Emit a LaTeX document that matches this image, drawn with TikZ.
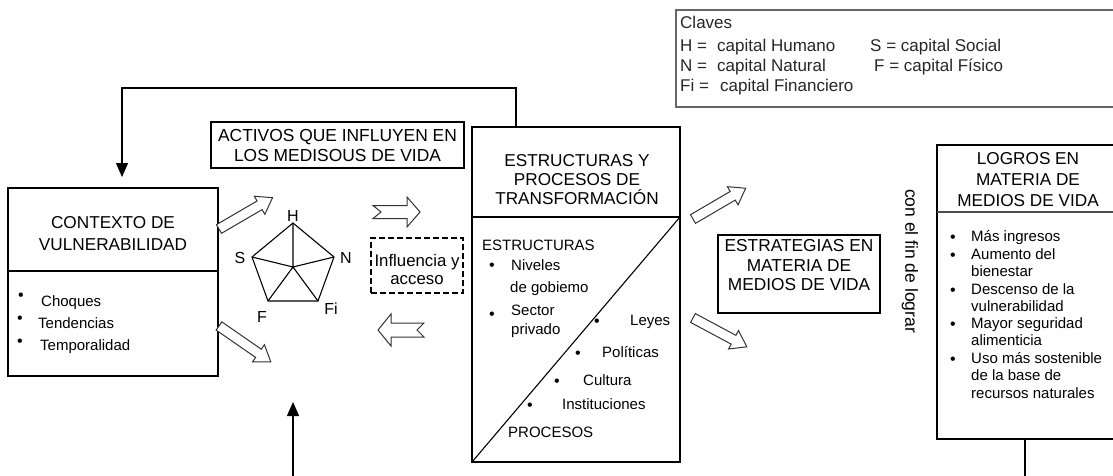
\documentclass[tikz,border=0pt]{standalone}
\usepackage{fontspec}
\setmainfont{Liberation Sans}
\usetikzlibrary{arrows.meta}
\newcommand\blockarr[7]{%
  \draw[barrow, shift={(#1)}, rotate=#2]
    (0,-#4) -- (#3-#6,-#4) -- (#3-#6,-#5) -- (#3,0) -- (#3-#6,#5) -- (#3-#6,#4) -- (0,#4) -- (#7,0) -- cycle;}
\begin{document}
\begin{tikzpicture}[x=1pt,y=-1pt,
  boxframe/.style={draw, line width=1.2pt, inner sep=0pt, outer sep=0pt, anchor=north west},
  divline/.style={line width=1.2pt},
  ttl/.style={font=\fontsize{17.2}{20.5}\selectfont, align=center, inner sep=0pt},
  itm/.style={font=\fontsize{15}{17.4}\selectfont, inner sep=0pt, anchor=mid west},
  bul/.style={font=\fontsize{16}{16}\selectfont, inner sep=0pt},
  keytxt/.style={font=\fontsize{17}{20}\selectfont, inner sep=0pt, anchor=mid west, text=black!85},
  lbl/.style={font=\fontsize{16}{18}\selectfont, inner sep=0pt},
  barrow/.style={draw=black!80, fill=white, line width=1pt, line join=miter},
  link/.style={line width=1.2pt},
  arrowed/.style={-{Triangle[length=14pt,width=12pt]}}
]
\useasboundingbox (0,0) rectangle (1113,476);

% ---------- key ----------
\draw[black!60, line width=1.2pt] (1120,10) -- (676,10) -- (676,107) -- (1120,107);
\node[keytxt] (kcl) at (680,26) {Claves};
\node[keytxt] (kh) at (680,49) {H =};
\node[keytxt] (khv) at (717,49) {capital Humano};
\node[keytxt] (ks) at (870,49) {S = capital Social};
\node[keytxt] (kn) at (680,69) {N =};
\node[keytxt] (knv) at (717,69) {capital Natural};
\node[keytxt] (kf) at (874,69) {F = capital Físico};
\node[keytxt] (kfi) at (680,89) {Fi =};
\node[keytxt] (kfiv) at (720,89) {capital Financiero};

% ---------- contexto ----------
\node[boxframe, minimum width=210, minimum height=188] (ctx) at (8,188) {};
\draw[divline] (ctx.west |- 0,271) -- (ctx.east |- 0,271);
\node[ttl, font=\fontsize{17.2}{22}\selectfont] (ctxt) at (113,234) {CONTEXTO DE\\VULNERABILIDAD};
\node[bul] (cb1) at (21,297) {•};
\node[bul] (cb2) at (20,320) {•};
\node[bul] (cb3) at (20,343) {•};
\node[itm] (c1) at (41,304) {Choques};
\node[itm] (c2) at (38,326) {Tendencias};
\node[itm] (c3) at (40,348) {Temporalidad};

% ---------- activos ----------
\node[boxframe, minimum width=253, minimum height=46] (act) at (211,122) {};
\node[ttl, font=\fontsize{17.4}{20}\selectfont] (actt) at (337.5,146) {ACTIVOS QUE INFLUYEN EN\\LOS MEDISOUS DE VIDA};

% ---------- pentagon ----------
\coordinate (pH) at (293,223);
\coordinate (pN) at (334,257);
\coordinate (pFi) at (318,301);
\coordinate (pF) at (268,301);
\coordinate (pS) at (252,257);
\coordinate (pC) at (293,267);
\draw[line width=1.1pt, line join=miter] (pH) -- (pN) -- (pFi) -- (pF) -- (pS) -- cycle;
\draw[line width=1.1pt] (pC) -- (pH) (pC) -- (pN) (pC) -- (pFi) (pC) -- (pF) (pC) -- (pS);
\node[lbl] (lH) at (293,216) {H};
\node[lbl] (lS) at (240,258) {S};
\node[lbl] (lN) at (346,258) {N};
\node[lbl] (lF) at (262,317) {F};
\node[lbl] (lFi) at (331,309) {Fi};

% ---------- block arrows (left part) ----------
\blockarr{219,229}{30.3}{62}{5}{10.5}{15}{0}
\blockarr{219,326}{-34.7}{63}{5}{10.5}{15}{0}
\blockarr{373,212}{0}{47}{6.5}{15}{13}{8}
\blockarr{424,330}{180}{46}{7}{16}{13}{7}

% ---------- influencia ----------
\node[boxframe, dash pattern=on 6pt off 3pt, line width=1.6pt, minimum width=92, minimum height=55] (inf) at (371,238) {};
\node[ttl, font=\fontsize{16.8}{18}\selectfont] (inft) at (417,269) {Influencia y\\acceso};

% ---------- estructuras ----------
\node[boxframe, minimum width=208, minimum height=335] (str) at (472,127) {};
\draw[divline] (str.west |- 0,217) -- (str.east |- 0,217);
\draw[line width=1.1pt] (str.south west) -- (str.east |- 0,217);
\node[ttl, font=\fontsize{17.2}{18.6}\selectfont] (strt) at (577,179.5) {ESTRUCTURAS Y\\PROCESOS DE\\TRANSFORMACIÓN};
\node[itm] (se) at (482,248) {ESTRUCTURAS};
\node[bul] (sb1) at (492,267) {•};
\node[bul] (sb2) at (492,316) {•};
\node[itm] (s1) at (511,268) {Niveles};
\node[itm] (s2) at (510,290) {de gobiemo};
\node[itm] (s3) at (511,313) {Sector};
\node[itm] (s4) at (511,332) {privado};
\node[bul] (pb1) at (597,323) {•};
\node[bul] (pb2) at (578,355) {•};
\node[bul] (pb3) at (557,383) {•};
\node[bul] (pb4) at (530,407) {•};
\node[itm] (p1) at (630,323) {Leyes};
\node[itm] (p2) at (602,355) {Políticas};
\node[itm] (p3) at (583,383) {Cultura};
\node[itm] (p4) at (562,407) {Instituciones};
\node[itm] (pp) at (508,435) {PROCESOS};

% ---------- feedback loop ----------
\coordinate (fbtop) at (516,88);
\coordinate (fbleft) at (122,88);
\coordinate (fbend) at (122,177);
\draw[link, arrowed] (str.north -| fbtop) |- (fbleft) -- (fbend);

% ---------- block arrows (right part) ----------
\blockarr{693,219}{30.3}{61}{5}{10.5}{15}{0}
\blockarr{693,318}{-28.2}{61}{5}{10.5}{15}{0}

% ---------- estrategias ----------
\node[boxframe, minimum width=162, minimum height=78] (est) at (718,235) {};
\node[ttl, font=\fontsize{17.3}{19.5}\selectfont] (estt) at (799,265.5) {ESTRATEGIAS EN\\MATERIA DE\\MEDIOS DE VIDA};

\node[font=\fontsize{17.5}{20}\selectfont, inner sep=0pt, rotate=-90] (fin) at (910,261) {con el fin de lograr};

% ---------- logros ----------
\node[boxframe, minimum width=200, minimum height=294] (log) at (937,145) {};
\draw[divline, black!70] (log.west |- 0,212) -- (log.east |- 0,212);
\node[ttl, font=\fontsize{17.2}{21}\selectfont] (logt) at (1028,180) {LOGROS EN\\MATERIA DE\\MEDIOS DE VIDA};
\node[bul] (lb1) at (953,239) {•};
\node[bul] (lb2) at (953,257) {•};
\node[bul] (lb3) at (953,292) {•};
\node[bul] (lb4) at (953,326) {•};
\node[bul] (lb5) at (953,361) {•};
\node[itm] (l1) at (971,239) {Más ingresos};
\node[itm] (l2) at (971,257) {Aumento del};
\node[itm] (l3) at (971,274) {bienestar};
\node[itm] (l4) at (971,292) {Descenso de la};
\node[itm] (l5) at (971,309) {vulnerabilidad};
\node[itm] (l6) at (971,326) {Mayor seguridad};
\node[itm] (l7) at (971,343) {alimenticia};
\node[itm] (l8) at (971,361) {Uso más sostenible};
\node[itm] (l9) at (971,378) {de la base de};
\node[itm] (l10) at (971,396) {recursos naturales};

% ---------- bottom connectors ----------
\coordinate (botA) at (293,480);
\coordinate (pentbot) at (293,402);
\draw[link, arrowed] (botA) -- (pentbot);
\coordinate (botB) at (1025,480);
\draw[link] (log.south -| botB) -- (botB);
\end{tikzpicture}
\end{document}
